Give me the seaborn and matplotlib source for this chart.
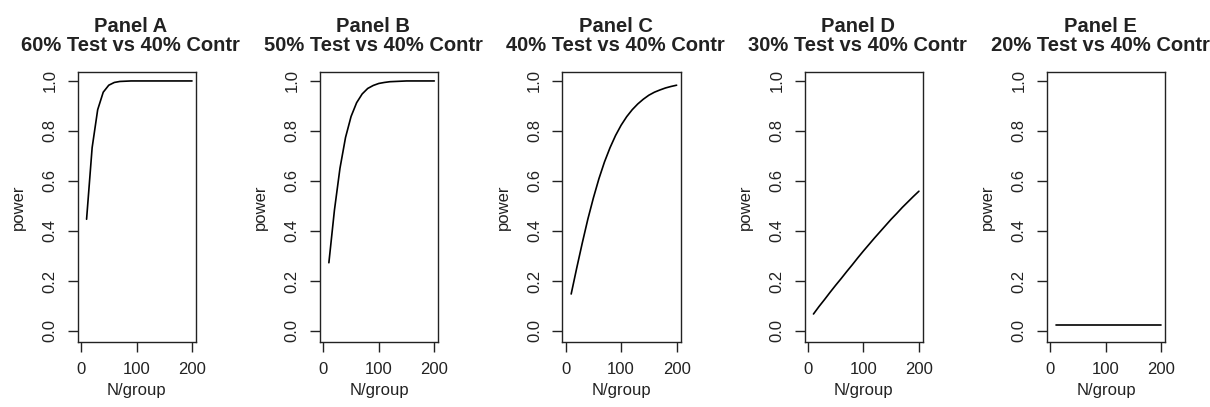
import matplotlib
matplotlib.use("Agg")
import matplotlib.pyplot as plt
import seaborn as sns

sns.set_style("ticks")
plt.rcParams['font.family'] = ['Liberation Sans', 'DejaVu Sans']

# sample size per group
n_per_group = [10, 20, 30, 40, 50, 60, 70, 80, 90, 100,
               110, 120, 130, 140, 150, 160, 170, 180, 190, 200]

# power curves
power_a = [0.447, 0.733, 0.885, 0.955, 0.983, 0.994, 0.998, 0.999, 1.0, 1.0,
           1.0, 1.0, 1.0, 1.0, 1.0, 1.0, 1.0, 1.0, 1.0, 1.0]
power_b = [0.273, 0.483, 0.651, 0.774, 0.858, 0.913, 0.948, 0.970, 0.982, 0.990,
           0.994, 0.997, 0.998, 0.999, 1.0, 1.0, 1.0, 1.0, 1.0, 1.0]
power_c = [0.148, 0.252, 0.352, 0.447, 0.532, 0.609, 0.676, 0.733, 0.782, 0.823,
           0.857, 0.885, 0.908, 0.927, 0.943, 0.955, 0.964, 0.972, 0.978, 0.983]
power_d = [0.068, 0.098, 0.126, 0.155, 0.183, 0.210, 0.238, 0.265, 0.293, 0.320,
           0.346, 0.372, 0.397, 0.422, 0.447, 0.470, 0.494, 0.516, 0.538, 0.559]
power_e = [0.025] * 20

panel_titles = ["Panel A\n60% Test vs 40% Contr",
                "Panel B\n50% Test vs 40% Contr",
                "Panel C\n40% Test vs 40% Contr",
                "Panel D\n30% Test vs 40% Contr",
                "Panel E\n20% Test vs 40% Contr"]
all_power = [power_a, power_b, power_c, power_d, power_e]

fig = plt.figure(figsize=(12.1, 4.07), dpi=100)

for i, (title, power) in enumerate(zip(panel_titles, all_power)):
    left = (77.7 + 242.3 * i) / 1210
    ax = fig.add_axes([left, 65 / 407, 118.3 / 1210, 270.3 / 407])
    sns.lineplot(x=n_per_group, y=power, ax=ax, color='black', linewidth=1.2)
    ax.set_xlim(-6, 207.2)
    ax.set_ylim(-0.044, 1.037)
    ax.set_xticks([0, 100, 200])
    ax.set_yticks([0.0, 0.2, 0.4, 0.6, 0.8, 1.0])
    ax.set_yticklabels(["0.0", "0.2", "0.4", "0.6", "0.8", "1.0"],
                       rotation=90, va='center')
    ax.tick_params(direction='out', length=7.5, width=1.0, labelsize=12,
                   colors='#222222', pad=7)
    for s in ax.spines.values():
        s.set_linewidth(1.0)
        s.set_color('#222222')
    ax.set_xlabel("N/group", fontsize=12, labelpad=4, color='#222222')
    ax.set_ylabel("power", fontsize=12, labelpad=12, color='#222222')
    ax.set_title(title, fontsize=14.5, fontweight='bold', pad=15,
                 linespacing=1.0, x=0.45, color='#222222')

fig.savefig("out.png", dpi=100)
